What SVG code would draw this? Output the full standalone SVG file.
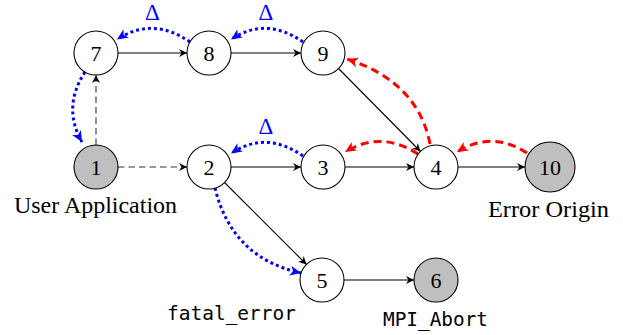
<svg xmlns="http://www.w3.org/2000/svg" width="623" height="335" viewBox="0 0 623 335">
<style>
.node circle{fill:#fff;stroke:#000;stroke-width:1.1}
.node.gray circle{fill:#bfbfbf}
.node text{font-family:"Liberation Serif",serif;font-size:22px;text-anchor:middle;fill:#000}
.lbl{font-family:"Liberation Serif",serif;font-size:23px;text-anchor:middle;fill:#000}
.mono{font-family:"DejaVu Sans Mono","Liberation Mono",monospace;font-size:20px;text-anchor:middle;fill:#000}
.delta{font-family:"Liberation Serif",serif;font-size:23px;text-anchor:middle;fill:#0000ff}
.e{fill:none;stroke:#000;stroke-width:1.1;marker-end:url(#ab)}
.d{stroke-dasharray:6.5 4;stroke:#333}
.blue{fill:none;stroke:#0000ff;stroke-width:3;stroke-dasharray:3 3;marker-end:url(#abl)}
.red{fill:none;stroke:#ff0000;stroke-width:3;stroke-dasharray:8 5;marker-end:url(#ar)}
</style>
<defs>
<marker id="ab" markerUnits="userSpaceOnUse" markerWidth="12" markerHeight="10" viewBox="-9 -5 10 10" refX="0" refY="0" orient="auto">
<path d="M0,0 L-8,-4 L-5.5,0 L-8,4 Z" fill="#000"/>
</marker>
<marker id="abl" markerUnits="userSpaceOnUse" markerWidth="14" markerHeight="12" viewBox="-12 -6 13 12" refX="0" refY="0" orient="auto">
<path d="M0,0 L-11,-5 L-8,0 L-11,5 Z" fill="#0000ff"/>
</marker>
<marker id="ar" markerUnits="userSpaceOnUse" markerWidth="14" markerHeight="12" viewBox="-12 -6 13 12" refX="0" refY="0" orient="auto">
<path d="M0,0 L-11,-5 L-8,0 L-11,5 Z" fill="#ff0000"/>
</marker>
</defs>
<g id="connectors">
<path class="e" d="M118,53 L187,53"/>
<path class="e" d="M231,53 L301,53"/>
<path class="e d" d="M96,145 L96,75"/>
<path class="e d" d="M118,167 L187,167"/>
<path class="e" d="M231,167 L301,167"/>
<path class="e" d="M345,167 L414,167"/>
<path class="e" d="M458,167 L525,167"/>
<path class="e" d="M338.5,68.5 L420.5,151.5"/>
<path class="e" d="M224.5,182.5 L306.5,264.5"/>
<path class="e" d="M344,280 L414,280"/>
<path class="blue" d="M190,42 Q152.5,16 117,39.5"/>
<path class="blue" d="M303,42 Q266,16 231,39.5"/>
<path class="blue" d="M303,156 Q266,130 231,153.5"/>
<path class="blue" d="M85,72 Q62,107 82,142"/>
<path class="blue" d="M215,188 Q232,258 301,273"/>
<path class="red" d="M430,144 Q418,82 347,59"/>
<path class="red" d="M418,154 Q381,130 345,152"/>
<path class="red" d="M527,153 Q492,130 457,152"/>
<text class="delta" x="152.5" y="20">Δ</text>
<text class="delta" x="266" y="20">Δ</text>
<text class="delta" x="266" y="134">Δ</text>
</g>
<g id="n7" class="node"><circle cx="96" cy="53" r="22"/><text x="96" y="60.5">7</text></g>
<g id="n8" class="node"><circle cx="209" cy="53" r="22"/><text x="209" y="60.5">8</text></g>
<g id="n9" class="node"><circle cx="323" cy="53" r="22"/><text x="323" y="60.5">9</text></g>
<g id="n1" class="node gray"><circle cx="96" cy="167" r="22"/><text x="96" y="174.5">1</text></g>
<g id="n2" class="node"><circle cx="209" cy="167" r="22"/><text x="209" y="174.5">2</text></g>
<g id="n3" class="node"><circle cx="323" cy="167" r="22"/><text x="323" y="174.5">3</text></g>
<g id="n4" class="node"><circle cx="436" cy="167" r="22"/><text x="436" y="174.5">4</text></g>
<g id="n10" class="node gray"><circle cx="550" cy="167" r="25"/><text x="550" y="174.5">10</text></g>
<g id="n5" class="node"><circle cx="322" cy="280" r="22"/><text x="322" y="287.5">5</text></g>
<g id="n6" class="node gray"><circle cx="436" cy="280" r="22"/><text x="436" y="287.5">6</text></g>
<g id="labels">
<text class="lbl" x="95.5" y="213" textLength="163" lengthAdjust="spacingAndGlyphs">User Application</text>
<text class="lbl" x="548.5" y="217" textLength="121" lengthAdjust="spacingAndGlyphs">Error Origin</text>
<text class="mono" x="231.5" y="320" textLength="129" lengthAdjust="spacingAndGlyphs">fatal_error</text>
<text class="mono" x="435.5" y="326" textLength="105" lengthAdjust="spacingAndGlyphs">MPI_Abort</text>
</g>
</svg>
